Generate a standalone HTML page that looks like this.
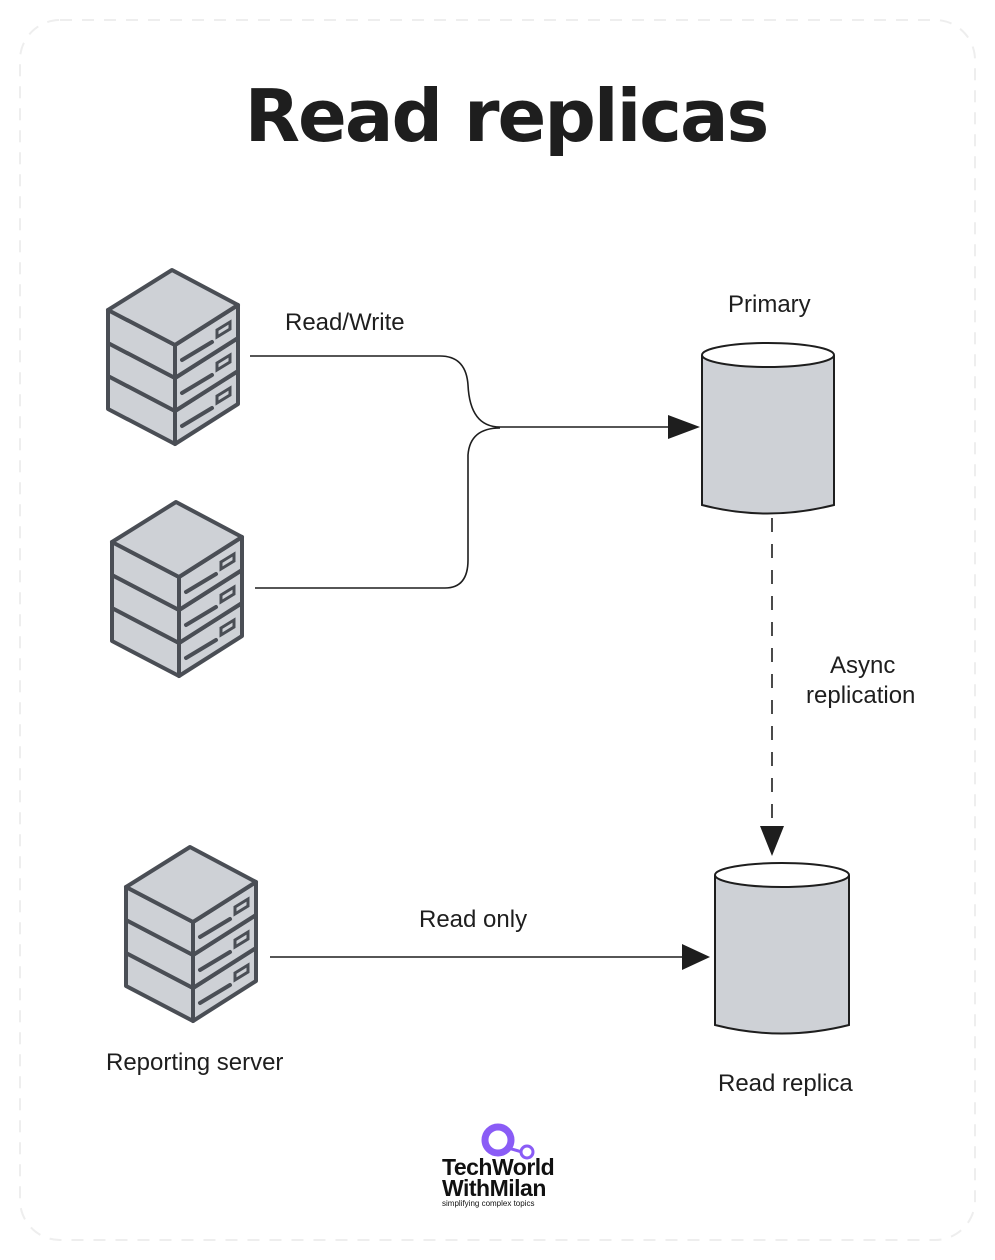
<!DOCTYPE html>
<html><head><meta charset="utf-8"><style>
html,body{margin:0;padding:0;background:#fff;}
body{width:995px;height:1260px;position:relative;overflow:hidden;font-family:"Liberation Sans","DejaVu Sans",sans-serif;}
.t{position:absolute;font-size:24px;color:#1e1e1e;white-space:nowrap;}
</style></head><body>
<svg width="995" height="1260" style="position:absolute;left:0;top:0" xmlns="http://www.w3.org/2000/svg">
<defs>
<g id="slab">
    <polygon points="108,310 175,345 175,378 108,343" fill="#ced1d6" stroke="#4a4e55" stroke-width="4" stroke-linejoin="round"/>
    <polygon points="175,345 238,305 238,338 175,378" fill="#ced1d6" stroke="#4a4e55" stroke-width="4" stroke-linejoin="round"/>
    <line x1="182" y1="360" x2="212" y2="342" stroke="#4a4e55" stroke-width="4" stroke-linecap="round"/>
    <polygon points="217,330 230,322 230,329 217,337" fill="none" stroke="#4a4e55" stroke-width="3"/>
</g>
</defs>
<rect x="20" y="20" width="955" height="1220" rx="40" fill="none" stroke="#eeeeee" stroke-width="2" stroke-dasharray="12 10"/>

<g transform="translate(0,0)">
 <use href="#slab" transform="translate(0,66)"/><use href="#slab" transform="translate(0,33)"/><use href="#slab"/>
 <polygon points="172,270 108,310 175,345 238,305" fill="#ced1d6" stroke="#4a4e55" stroke-width="4" stroke-linejoin="round"/>
</g>
<g transform="translate(4,232)">
 <use href="#slab" transform="translate(0,66)"/><use href="#slab" transform="translate(0,33)"/><use href="#slab"/>
 <polygon points="172,270 108,310 175,345 238,305" fill="#ced1d6" stroke="#4a4e55" stroke-width="4" stroke-linejoin="round"/>
</g>
<g transform="translate(18,577)">
 <use href="#slab" transform="translate(0,66)"/><use href="#slab" transform="translate(0,33)"/><use href="#slab"/>
 <polygon points="172,270 108,310 175,345 238,305" fill="#ced1d6" stroke="#4a4e55" stroke-width="4" stroke-linejoin="round"/>
</g>

<path d="M702,355 L702,505 Q767,522 834,505 L834,355" fill="#ced1d6" stroke="#1e1e1e" stroke-width="2"/>
<ellipse cx="768" cy="355" rx="66" ry="12" fill="#fff" stroke="#1e1e1e" stroke-width="2"/>
<path d="M715,875 L715,1025 Q782,1042 849,1025 L849,875" fill="#ced1d6" stroke="#1e1e1e" stroke-width="2"/>
<ellipse cx="782" cy="875" rx="67" ry="12" fill="#fff" stroke="#1e1e1e" stroke-width="2"/>

<g fill="none" stroke="#1e1e1e" stroke-width="1.6">
<path d="M250,356 L440,356 Q466,356 468,385 Q470,427 500,427 L680,427"/>
<path d="M255,588 L445,588 Q468,588 468,560 L468,455 Q470,428 500,428"/>
<path d="M772,518 L772,830" stroke-dasharray="14 12"/>
<path d="M270,957 L685,957"/>
</g>
<path d="M668,415 L700,427 L668,439z" fill="#1e1e1e"/>
<path d="M760,826 L772,856 L784,826z" fill="#1e1e1e"/>
<path d="M682,944 L710,957 L682,970z" fill="#1e1e1e"/>

<circle cx="498" cy="1140" r="13" fill="none" stroke="#8a5cf6" stroke-width="7"/>
<line x1="508" y1="1148" x2="522" y2="1152" stroke="#8a5cf6" stroke-width="3"/>
<circle cx="527" cy="1152" r="6" fill="none" stroke="#8a5cf6" stroke-width="3"/>
</svg>

<div style="position:absolute;left:0;width:1012px;top:74px;text-align:center;font-size:72px;font-weight:bold;color:#1e1e1e;letter-spacing:-2px;font-family:'DejaVu Sans','Liberation Sans',sans-serif;">Read replicas</div>
<div class="t" style="left:285px;top:309px">Read/Write</div>
<div class="t" style="left:728px;top:291px">Primary</div>
<div class="t" style="left:830px;top:652px">Async</div>
<div class="t" style="left:806px;top:682px">replication</div>
<div class="t" style="left:419px;top:906px">Read only</div>
<div class="t" style="left:106px;top:1049px">Reporting server</div>
<div class="t" style="left:718px;top:1070px">Read replica</div>
<div style="position:absolute;left:442px;top:1157px;font-size:23px;font-weight:bold;line-height:21px;color:#111;letter-spacing:-0.5px">TechWorld<br>WithMilan</div>
<div style="position:absolute;left:442px;top:1199px;font-size:8px;color:#111">simplifying complex topics</div>
</body></html>
